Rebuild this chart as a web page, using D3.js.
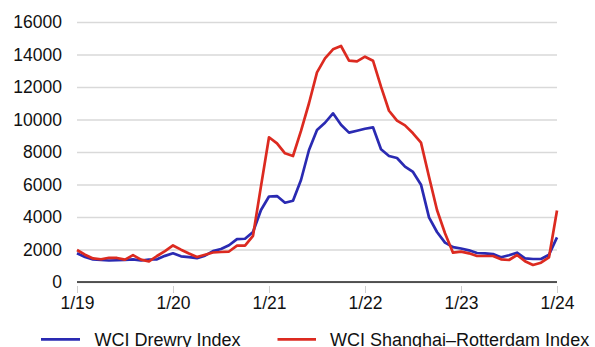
<!DOCTYPE html>
<html>
<head>
<meta charset="utf-8">
<script src="https://cdn.jsdelivr.net/npm/d3@7"></script>
<style>
  html, body { margin: 0; padding: 0; background: #fff; }
  svg { display: block; font-family: "Liberation Sans", Arial, Helvetica, sans-serif; }
</style>
</head>
<body>
<svg id="chart" width="595" height="347"></svg>
<script>
// Monthly index values, January 2019 through January 2024 (USD per 40ft container)
const monthIndex = d3.range(0, 61);

const drewryIndex = [
  1766, 1538, 1385, 1354, 1323, 1340, 1354, 1397, 1323, 1385, 1397, 1610,
  1765, 1580, 1530, 1470, 1620, 1900, 2030, 2260, 2640, 2660, 3077, 4430,
  5262, 5290, 4880, 5000, 6277, 8123, 9354, 9800, 10380, 9680, 9190, 9310,
  9430, 9520, 8165, 7754, 7630, 7097, 6770, 5990, 3980, 3077, 2420, 2150,
  2060, 1950, 1785, 1766, 1720, 1520, 1643, 1803, 1458, 1415, 1415, 1680,
  2750
];

const shanghaiRotterdam = [
  1970, 1680, 1450, 1400, 1490, 1480, 1375, 1650, 1375, 1265, 1600, 1900,
  2250, 1990, 1750, 1540, 1680, 1815, 1846, 1875, 2235, 2235, 2840, 5900,
  8905, 8535, 7920, 7754, 9300, 11000, 12900, 13766, 14320, 14523, 13620, 13580,
  13865, 13620, 12020, 10540, 9926, 9640, 9150, 8575, 6480, 4430, 3000, 1805,
  1865, 1766, 1600, 1600, 1600, 1397, 1354, 1661, 1274, 1046, 1188, 1520,
  4400
];

const xTickMonths = [0, 12, 24, 36, 48, 60];
const xTickLabels = ["1/19", "1/20", "1/21", "1/22", "1/23", "1/24"];
const yTickValues = [0, 2000, 4000, 6000, 8000, 10000, 12000, 14000, 16000];

const seriesNames = ["WCI Drewry Index", "WCI Shanghai\u2013Rotterdam Index"];
const seriesColors = ["#2a2ab2", "#dc2a20"];

const svg = d3.select("#chart");
const plot = { left: 77, right: 557, top: 22, bottom: 282 };
const fontSize = "17.5px";
const legendFontSize = "18px";
const textColor = "#111";

const x = d3.scaleLinear().domain([0, 60]).range([plot.left, plot.right]);
const y = d3.scaleLinear().domain([0, 16000]).range([plot.bottom, plot.top]);

// Y axis with horizontal gridlines
const yAxis = svg.append("g")
  .attr("transform", `translate(${plot.left},0)`)
  .call(d3.axisLeft(y)
    .tickValues(yTickValues)
    .tickSizeInner(-(plot.right - plot.left))
    .tickSizeOuter(0)
    .tickPadding(15)
    .tickFormat(d3.format("d")));
yAxis.select(".domain").remove();
yAxis.selectAll(".tick line")
  .attr("stroke", "#d9d9d9")
  .attr("stroke-width", 1.4);
yAxis.selectAll(".tick text")
  .attr("fill", textColor)
  .style("font-size", fontSize)
  .style("font-family", "Liberation Sans, Arial, sans-serif");

// X axis
const xAxis = svg.append("g")
  .attr("transform", `translate(0,${plot.bottom})`)
  .call(d3.axisBottom(x)
    .tickValues(xTickMonths)
    .tickSizeOuter(0)
    .tickFormat((d, i) => xTickLabels[i]));
xAxis.select(".domain").remove();
xAxis.selectAll(".tick line")
  .attr("y1", 4).attr("y2", 11)
  .attr("stroke", "#cfcfcf")
  .attr("stroke-width", 1);
xAxis.selectAll(".tick text")
  .attr("y", 26.5).attr("dy", 0)
  .attr("fill", textColor)
  .style("font-size", fontSize)
  .style("font-family", "Liberation Sans, Arial, sans-serif");

// Baseline
svg.append("line")
  .attr("x1", plot.left).attr("x2", plot.right)
  .attr("y1", y(0)).attr("y2", y(0))
  .attr("stroke", "#222")
  .attr("stroke-width", 1.6);

// Series lines
const line = d3.line()
  .x((d, i) => x(monthIndex[i]))
  .y(d => y(d));

[drewryIndex, shanghaiRotterdam].forEach((values, k) => {
  svg.append("path")
    .datum(values)
    .attr("d", line)
    .attr("fill", "none")
    .attr("stroke", seriesColors[k])
    .attr("stroke-width", 2.7)
    .attr("stroke-linejoin", "round");
});

// Legend
const legendItems = [
  { x1: 41, x2: 80, tx: 94.5 },
  { x1: 277.5, x2: 316, tx: 330 }
];
legendItems.forEach((item, k) => {
  svg.append("line")
    .attr("x1", item.x1).attr("x2", item.x2)
    .attr("y1", 339.3).attr("y2", 339.3)
    .attr("stroke", seriesColors[k])
    .attr("stroke-width", 2.8);
  svg.append("text")
    .attr("x", item.tx).attr("y", 345.5)
    .attr("fill", textColor)
    .style("font-size", legendFontSize)
    .text(seriesNames[k]);
});
</script>
</body>
</html>
